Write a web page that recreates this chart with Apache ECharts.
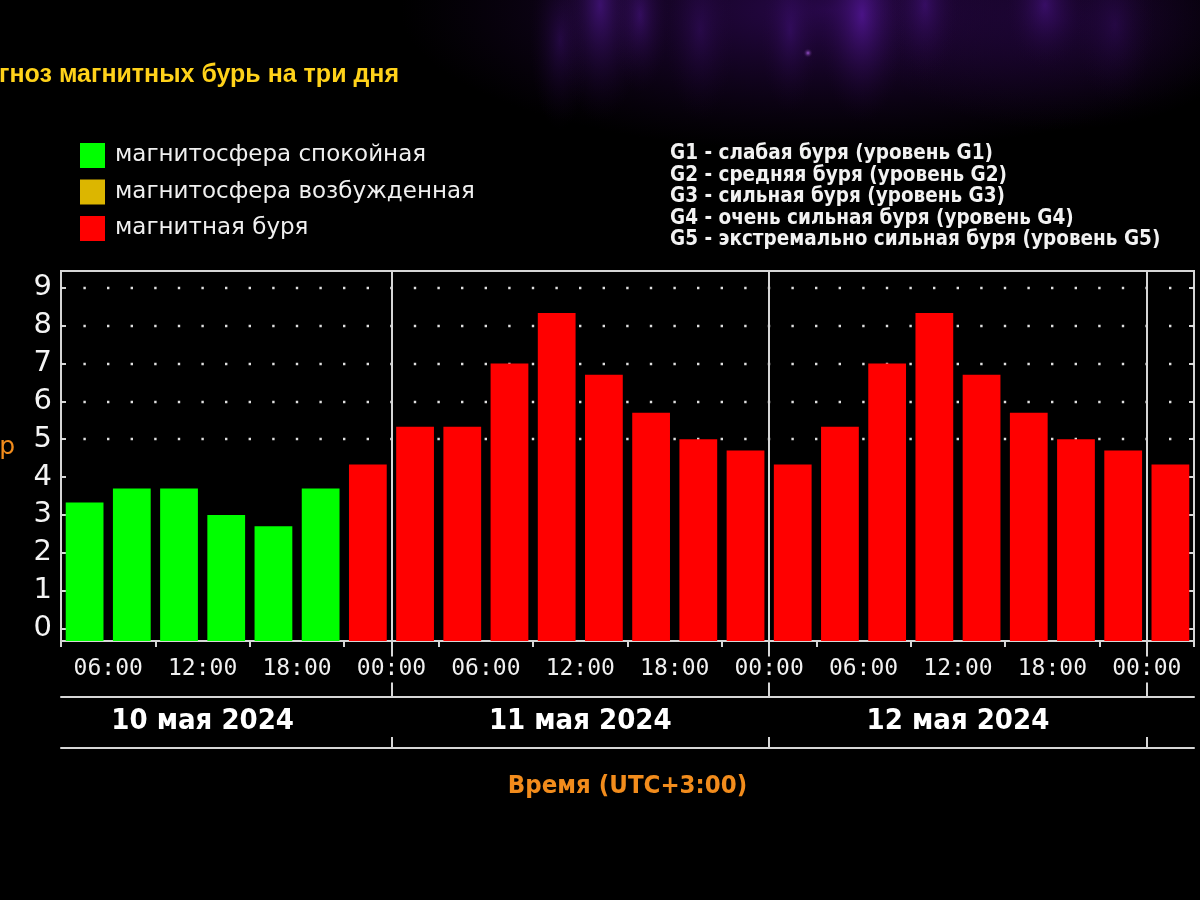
<!DOCTYPE html>
<html><head><meta charset="utf-8">
<script src="https://cdn.jsdelivr.net/npm/echarts@6/dist/echarts.min.js"></script>
<style>html,body{margin:0;padding:0;background:#000;}#c{width:1200px;height:900px;}</style>
</head><body><div id="c"></div>
<script>
// ---- data ----
const slotStarts = ['10.05 03:00','10.05 06:00','10.05 09:00','10.05 12:00','10.05 15:00','10.05 18:00','10.05 21:00',
  '11.05 00:00','11.05 03:00','11.05 06:00','11.05 09:00','11.05 12:00','11.05 15:00','11.05 18:00','11.05 21:00',
  '12.05 00:00','12.05 03:00','12.05 06:00','12.05 09:00','12.05 12:00','12.05 15:00','12.05 18:00','12.05 21:00',
  '13.05 00:00'];
const kpValues = [3.33,3.7,3.7,3.0,2.7,3.7,4.33,
  5.33,5.33,7.0,8.33,6.7,5.7,5.0,4.7,
  4.33,5.33,7.0,8.33,6.7,5.7,5.0,4.7,
  4.33];
const kpStatus = ['calm','calm','calm','calm','calm','calm','storm',
  'storm','storm','storm','storm','storm','storm','storm','storm',
  'storm','storm','storm','storm','storm','storm','storm','storm',
  'storm'];
const statusNames = {calm:'магнитосфера спокойная', active:'магнитосфера возбужденная', storm:'магнитная буря'};
const hourRange = [3, 75];            // hours counted from 10.05 00:00
const timeTickHours = [6,12,18,24,30,36,42,48,54,60,66,72];
const timeTickLabels = ['06:00','12:00','18:00','00:00','06:00','12:00','18:00','00:00','06:00','12:00','18:00','00:00'];
const dayBoundaryHours = [24,48,72];
const dayCenterHours = [12,36,60];
const dayLabels = ['10 мая 2024','11 мая 2024','12 мая 2024'];
const yTicks = [0,1,2,3,4,5,6,7,8,9];
const yRange = [-0.33, 9.44];
const dotLevels = [5,6,7,8,9];
const gLevels = ['G1 - слабая буря (уровень G1)','G2 - средняя буря (уровень G2)','G3 - сильная буря (уровень G3)',
  'G4 - очень сильная буря (уровень G4)','G5 - экстремально сильная буря (уровень G5)'];
const titleText = 'Прогноз магнитных бурь на три дня';
const yName = 'Kp';
const xName = 'Время (UTC+3:00)';

// ---- styles ----
const LINE = '#d6d6d6';
const ORANGE = '#f28c1c';
const COND = '"DejaVu Sans Condensed", "DejaVu Sans", sans-serif';
const colors = {calm:'#00ff00', active:'#dcb600', storm:'#ff0000'};
const BAR_FRACTION = 0.8;

function barSeries(key){
  return {
    type:'custom', name:statusNames[key], xAxisIndex:0, yAxisIndex:0, z:3,
    itemStyle:{color:colors[key]},
    encode:{x:0, y:1},
    data: kpValues.map((v,i)=>[i, v]).filter((d)=> kpStatus[d[0]]===key),
    renderItem:(params, api)=>{
      const i = api.value(0), v = api.value(1);
      const top = api.coord([i, v]);
      const base = api.coord([i, yRange[0]]);
      const w = api.size([1, 0])[0] * BAR_FRACTION;
      return {type:'rect', shape:{x:top[0]-w/2, y:top[1], width:w, height:base[1]-top[1]},
        style:{fill:colors[key]}};
    }
  };
}

// decorative background glow (purple aurora behind the header)
function glow(x, y, r, sy, c0){
  return {type:'circle', z:-10, silent:true, x, y, scaleY:sy, shape:{cx:0, cy:0, r},
    style:{fill:{type:'radial', x:0.5, y:0.5, r:0.5, colorStops:[{offset:0,color:c0},{offset:1,color:'rgba(30,5,50,0)'}]}}};
}

const chart = echarts.init(document.getElementById('c'), null, {width:1200, height:900});
const option = {
  backgroundColor:'#000',
  animation:false,
  graphic:[
    glow(830, 10, 430, 0.33, 'rgba(42,8,78,0.95)'),
    glow(1060, 20, 200, 0.55, 'rgba(35,6,65,0.7)'),
    glow(600, 5, 45, 2.6, 'rgba(95,28,175,0.55)'),
    glow(640, 15, 30, 2.6, 'rgba(90,25,165,0.45)'),
    glow(560, 40, 30, 3.0, 'rgba(80,20,150,0.35)'),
    glow(700, 30, 35, 2.6, 'rgba(75,20,140,0.3)'),
    glow(790, 30, 30, 2.8, 'rgba(80,22,150,0.35)'),
    glow(862, 15, 45, 2.4, 'rgba(105,30,190,0.55)'),
    glow(925, 5, 35, 2.2, 'rgba(90,25,165,0.4)'),
    glow(1045, 5, 40, 1.6, 'rgba(90,25,165,0.45)'),
    glow(1115, 25, 40, 2.0, 'rgba(70,18,130,0.3)'),
    glow(808, 53, 5, 1, 'rgba(175,95,235,0.85)'),
    {type:'text', x:399, y:75, style:{text:titleText, fill:'#ffd21a', font:'bold 25px "Liberation Sans", Arial, sans-serif', textAlign:'right', textVerticalAlign:'middle'}},
    {type:'text', x:15, y:447, style:{text:yName, fill:ORANGE, font:'25px "DejaVu Sans", sans-serif', textAlign:'right', textVerticalAlign:'middle'}},
    {type:'text', x:670, y:143, style:{text:gLevels.join('\n'), fill:'#f2f2f2', font:'bold 20.5px ' + COND, lineHeight:21.5, textVerticalAlign:'top'}}
  ],
  legend:{
    orient:'vertical', left:80, top:143, padding:0, itemWidth:25, itemHeight:25, itemGap:11.5, icon:'rect',
    selectedMode:false,
    data:[statusNames.calm, statusNames.active, statusNames.storm],
    textStyle:{color:'#f0f0f0', fontSize:23, fontFamily:'DejaVu Sans', padding:[0,0,0,5]}
  },
  grid:{left:61, right:6, top:271, bottom:259, show:true, borderColor:LINE, borderWidth:2, containLabel:false, outerBoundsMode:'none'},
  xAxis:[
    {type:'category', data:slotStarts, position:'bottom', boundaryGap:true,
      axisLine:{show:true, onZero:false, lineStyle:{color:LINE, width:2}},
      axisTick:{show:true, length:6, lineStyle:{color:LINE, width:2}},
      axisLabel:{show:false}, splitLine:{show:false}},
    {type:'value', min:hourRange[0], max:hourRange[1], position:'bottom', z:5,
      axisLine:{show:false, onZero:false},
      axisTick:{show:true, length:56, customValues:dayBoundaryHours, lineStyle:{color:LINE, width:2}},
      axisLabel:{show:true, customValues:timeTickHours, margin:15.5, color:'#f0f0f0', fontSize:23, fontFamily:'DejaVu Sans Mono',
        lineHeight:26, backgroundColor:'#000', padding:[0,2],
        formatter:(v)=> timeTickLabels[timeTickHours.indexOf(v)]},
      splitLine:{show:false}},
    {type:'value', min:hourRange[0], max:hourRange[1], position:'bottom', offset:56,
      axisLine:{show:true, onZero:false, lineStyle:{color:LINE, width:2}},
      axisTick:{show:false},
      axisLabel:{show:true, customValues:dayCenterHours, margin:8.5, color:'#ffffff', fontSize:29, fontWeight:'bold', fontFamily:COND,
        lineHeight:32, formatter:(v)=> dayLabels[dayCenterHours.indexOf(v)]},
      splitLine:{show:false}},
    {type:'value', min:hourRange[0], max:hourRange[1], position:'bottom', offset:107,
      axisLine:{show:true, onZero:false, lineStyle:{color:LINE, width:2}},
      axisTick:{show:true, inside:true, length:11, customValues:dayBoundaryHours, lineStyle:{color:LINE, width:2}},
      axisLabel:{show:false}, splitLine:{show:false},
      name:xName, nameLocation:'middle', nameGap:24,
      nameTextStyle:{color:ORANGE, fontSize:25.5, fontWeight:'bold', fontFamily:COND, lineHeight:28}}
  ],
  yAxis:[
    {type:'value', min:yRange[0], max:yRange[1], position:'left',
      axisLine:{show:true, onZero:false, lineStyle:{color:LINE, width:2}},
      axisTick:{show:true, inside:true, length:5, customValues:yTicks, lineStyle:{color:LINE, width:2}},
      axisLabel:{show:true, customValues:yTicks, margin:9, color:'#f4f4f4', fontSize:29, fontFamily:'DejaVu Sans'},
      splitLine:{show:false}},
    {type:'value', min:yRange[0], max:yRange[1], position:'right',
      axisLine:{show:false, onZero:false},
      axisTick:{show:true, inside:true, length:5, customValues:yTicks, lineStyle:{color:LINE, width:2}},
      axisLabel:{show:false}, splitLine:{show:false}}
  ],
  series:[
    barSeries('calm'), barSeries('active'), barSeries('storm'),
    {type:'line', name:'grid-dots', xAxisIndex:0, yAxisIndex:0, data:[], silent:true, z:1,
      markLine:{silent:true, z:1, symbol:'none', label:{show:false},
        lineStyle:{color:'#e0e0e0', width:2.4, type:[2.4, 21.2], dashOffset:1.2},
        data: dotLevels.map(v=>({yAxis:v}))}},
    {type:'line', name:'day-sep', xAxisIndex:1, yAxisIndex:0, data:[], silent:true, z:1,
      markLine:{silent:true, z:1, symbol:'none', label:{show:false},
        lineStyle:{color:LINE, width:2, type:'solid'},
        data: dayBoundaryHours.map(h=>({xAxis:h}))}}
  ]
};
chart.setOption(option);
</script></body></html>
